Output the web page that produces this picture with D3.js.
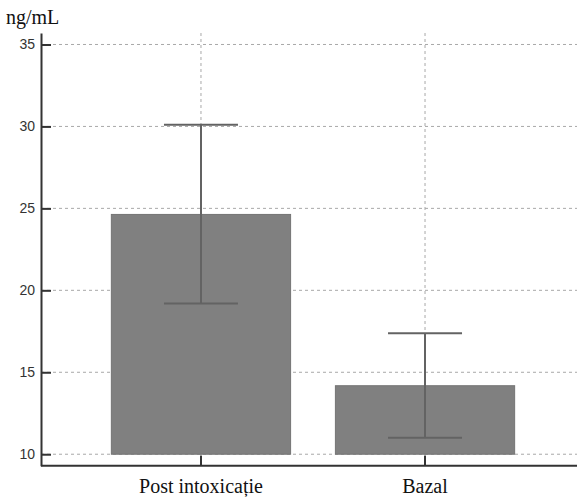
<!DOCTYPE html>
<html>
<head>
<meta charset="utf-8">
<script src="https://cdn.jsdelivr.net/npm/d3@7"></script>
<style>
  html, body { margin: 0; padding: 0; background: #fff; }
  svg { display: block; }
  .serif { font-family: "Liberation Serif", "Times New Roman", serif; }
  .sans { font-family: "Liberation Sans", Arial, sans-serif; }
</style>
</head>
<body>
<svg id="chart" width="577" height="497"></svg>
<script>
const categories = ["Post intoxicație", "Bazal"];
const means = [24.63, 14.18];
const errLow = [19.2, 11.0];
const errHigh = [30.1, 17.38];
const yTicks = [10, 15, 20, 25, 30, 35];
const yUnit = "ng/mL";

(function () {
const svg = d3.select("#chart");
const mLeft = 41, mRight = 585, mTop = 33, mBottom = 465.7;

const y = d3.scaleLinear().domain([9.3, 35.7]).range([mBottom, mTop]);
const x = d3.scaleBand().domain(categories).range([mLeft, mRight])
  .paddingInner(0.2).paddingOuter(0.314);

svg.append("g").selectAll("line").data(yTicks).join("line")
  .attr("x1", mLeft).attr("x2", 577)
  .attr("y1", d => y(d)).attr("y2", d => y(d))
  .attr("stroke", "#a8a8a8").attr("stroke-width", 1)
  .attr("stroke-dasharray", "3,3");

svg.append("g").selectAll("line").data(categories).join("line")
  .attr("x1", d => x(d) + x.bandwidth() / 2).attr("x2", d => x(d) + x.bandwidth() / 2)
  .attr("y1", mTop).attr("y2", mBottom)
  .attr("stroke", "#a8a8a8").attr("stroke-width", 1)
  .attr("stroke-dasharray", "3,3");

svg.append("g").selectAll("rect").data(categories).join("rect")
  .attr("x", d => x(d)).attr("width", x.bandwidth())
  .attr("y", (d, i) => y(means[i]))
  .attr("height", (d, i) => y(10) - y(means[i]))
  .attr("fill", "#808080").attr("stroke", "#747474").attr("stroke-width", 1);

const eb = svg.append("g").attr("stroke", "#636363").attr("stroke-width", 2);
const capW = 74;
categories.forEach((c, i) => {
  const cx = x(c) + x.bandwidth() / 2;
  eb.append("line").attr("x1", cx).attr("x2", cx)
    .attr("y1", y(errHigh[i])).attr("y2", y(errLow[i]));
  eb.append("line").attr("x1", cx - capW / 2).attr("x2", cx + capW / 2)
    .attr("y1", y(errHigh[i])).attr("y2", y(errHigh[i]));
  eb.append("line").attr("x1", cx - capW / 2).attr("x2", cx + capW / 2)
    .attr("y1", y(errLow[i])).attr("y2", y(errLow[i]));
});

const yAxis = d3.axisLeft(y).tickValues(yTicks).tickSizeInner(-10).tickSizeOuter(0).tickPadding(6);
const gy = svg.append("g").attr("transform", `translate(${mLeft},0)`).call(yAxis)
  .attr("font-family", null).attr("font-size", null);
gy.select(".domain").attr("stroke", "#333").attr("stroke-width", 2);
gy.selectAll(".tick line").attr("stroke", "#333").attr("stroke-width", 2);
gy.selectAll(".tick text").attr("x", -6).attr("class", "sans")
  .style("font-size", "14px").attr("fill", "#333");

const xAxis = d3.axisBottom(x).tickSizeInner(-10).tickSizeOuter(0).tickPadding(0);
const gx = svg.append("g").attr("transform", `translate(0,${mBottom})`).call(xAxis)
  .attr("font-family", null).attr("font-size", null);
gx.select(".domain").attr("stroke", "#333").attr("stroke-width", 2)
  .attr("d", `M${mLeft},0H577`);
gx.selectAll(".tick line").attr("stroke", "#333").attr("stroke-width", 2);
gx.selectAll(".tick text").attr("y", 27).attr("dy", 0).attr("class", "serif")
  .style("font-size", "20px").attr("fill", "#111");

svg.append("text").attr("x", 6).attr("y", 24).text(yUnit).attr("class", "serif")
  .style("font-size", "20px").attr("fill", "#111");
})();
</script>
</body>
</html>
